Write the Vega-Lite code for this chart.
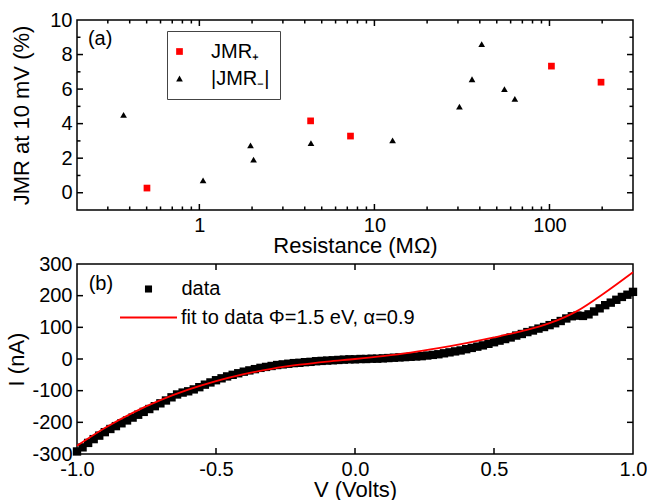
{
  "$schema": "https://vega.github.io/schema/vega-lite/v6.json",
  "background": "white",
  "padding": {"left": 5, "top": 9, "right": 10, "bottom": 0},
  "bounds": "flush",
  "spacing": 54,
  "resolve": {"scale": {"color": "independent", "shape": "independent"}, "legend": {"color": "independent", "shape": "independent"}},
  "config": {
    "font": "Liberation Sans",
    "view": {"stroke": "black", "strokeWidth": 1.5},
    "axis": {
      "domain": false, "grid": false, "ticks": false,
      "labelFont": "Liberation Sans", "labelFontSize": 20, "labelColor": "black",
      "titleFont": "Liberation Sans", "titleFontSize": 22, "titleFontWeight": "normal", "titleColor": "black"
    },
    "legend": {"labelFont": "Liberation Sans", "labelFontSize": 20, "labelColor": "black", "labelLimit": 400}
  },
  "datasets": {
    "jmr": [
      {"R": 0.502, "JMR": 0.27, "series": "JMR₊"},
      {"R": 4.32, "JMR": 4.16, "series": "JMR₊"},
      {"R": 7.3, "JMR": 3.28, "series": "JMR₊"},
      {"R": 102.6, "JMR": 7.33, "series": "JMR₊"},
      {"R": 197, "JMR": 6.4, "series": "JMR₊"},
      {"R": 0.369, "JMR": 4.51, "series": "|JMR₋|"},
      {"R": 1.05, "JMR": 0.71, "series": "|JMR₋|"},
      {"R": 1.96, "JMR": 2.74, "series": "|JMR₋|"},
      {"R": 2.04, "JMR": 1.92, "series": "|JMR₋|"},
      {"R": 4.34, "JMR": 2.87, "series": "|JMR₋|"},
      {"R": 12.7, "JMR": 3.03, "series": "|JMR₋|"},
      {"R": 30.6, "JMR": 4.99, "series": "|JMR₋|"},
      {"R": 36.1, "JMR": 6.57, "series": "|JMR₋|"},
      {"R": 41, "JMR": 8.6, "series": "|JMR₋|"},
      {"R": 55.3, "JMR": 6.0, "series": "|JMR₋|"},
      {"R": 63.4, "JMR": 5.43, "series": "|JMR₋|"}
    ],
    "txMajor": [{"v": 1}, {"v": 10}, {"v": 100}],
    "txMinor": [
      {"v": 0.3}, {"v": 0.4}, {"v": 0.5}, {"v": 0.6}, {"v": 0.7}, {"v": 0.8}, {"v": 0.9},
      {"v": 2}, {"v": 3}, {"v": 4}, {"v": 5}, {"v": 6}, {"v": 7}, {"v": 8}, {"v": 9},
      {"v": 20}, {"v": 30}, {"v": 40}, {"v": 50}, {"v": 60}, {"v": 70}, {"v": 80}, {"v": 90},
      {"v": 200}
    ],
    "tyMajor": [{"v": 0}, {"v": 2}, {"v": 4}, {"v": 6}, {"v": 8}],
    "tyMinor": [{"v": 1}, {"v": 3}, {"v": 5}, {"v": 7}, {"v": 9}],
    "bx": [{"v": -0.5}, {"v": 0}, {"v": 0.5}],
    "by": [{"v": -200}, {"v": -100}, {"v": 0}, {"v": 100}, {"v": 200}],
    "iv": [
      {"V": -1.00, "I": -292}, {"V": -0.98, "I": -279}, {"V": -0.96, "I": -265}, {"V": -0.94, "I": -253},
      {"V": -0.92, "I": -242}, {"V": -0.90, "I": -231}, {"V": -0.88, "I": -221}, {"V": -0.86, "I": -212},
      {"V": -0.84, "I": -203}, {"V": -0.82, "I": -194}, {"V": -0.80, "I": -185}, {"V": -0.78, "I": -176},
      {"V": -0.76, "I": -167}, {"V": -0.74, "I": -158}, {"V": -0.72, "I": -149}, {"V": -0.70, "I": -140},
      {"V": -0.68, "I": -131}, {"V": -0.66, "I": -121}, {"V": -0.64, "I": -112}, {"V": -0.62, "I": -106},
      {"V": -0.60, "I": -102}, {"V": -0.58, "I": -96}, {"V": -0.56, "I": -89}, {"V": -0.54, "I": -81},
      {"V": -0.52, "I": -74}, {"V": -0.50, "I": -67}, {"V": -0.48, "I": -61}, {"V": -0.46, "I": -55},
      {"V": -0.44, "I": -50}, {"V": -0.42, "I": -45}, {"V": -0.40, "I": -40}, {"V": -0.38, "I": -36},
      {"V": -0.36, "I": -32}, {"V": -0.34, "I": -28}, {"V": -0.32, "I": -25}, {"V": -0.30, "I": -22},
      {"V": -0.28, "I": -19}, {"V": -0.26, "I": -17}, {"V": -0.24, "I": -15}, {"V": -0.22, "I": -13},
      {"V": -0.20, "I": -12}, {"V": -0.18, "I": -10}, {"V": -0.16, "I": -9}, {"V": -0.14, "I": -7},
      {"V": -0.12, "I": -6}, {"V": -0.10, "I": -5}, {"V": -0.08, "I": -4}, {"V": -0.06, "I": -3},
      {"V": -0.04, "I": -2}, {"V": -0.02, "I": -1}, {"V": 0.00, "I": -1}, {"V": 0.02, "I": 0},
      {"V": 0.04, "I": 0}, {"V": 0.06, "I": 1}, {"V": 0.08, "I": 1}, {"V": 0.10, "I": 2},
      {"V": 0.12, "I": 3}, {"V": 0.14, "I": 4}, {"V": 0.16, "I": 5}, {"V": 0.18, "I": 6},
      {"V": 0.20, "I": 7}, {"V": 0.22, "I": 8}, {"V": 0.24, "I": 9}, {"V": 0.26, "I": 11},
      {"V": 0.28, "I": 13}, {"V": 0.30, "I": 15}, {"V": 0.32, "I": 18}, {"V": 0.34, "I": 21},
      {"V": 0.36, "I": 24}, {"V": 0.38, "I": 27}, {"V": 0.40, "I": 31}, {"V": 0.42, "I": 35},
      {"V": 0.44, "I": 39}, {"V": 0.46, "I": 43}, {"V": 0.48, "I": 48}, {"V": 0.50, "I": 53},
      {"V": 0.52, "I": 58}, {"V": 0.54, "I": 63}, {"V": 0.56, "I": 68}, {"V": 0.58, "I": 74},
      {"V": 0.60, "I": 79}, {"V": 0.62, "I": 85}, {"V": 0.64, "I": 90}, {"V": 0.66, "I": 96},
      {"V": 0.68, "I": 101}, {"V": 0.70, "I": 107}, {"V": 0.72, "I": 113}, {"V": 0.74, "I": 120},
      {"V": 0.76, "I": 128}, {"V": 0.78, "I": 135}, {"V": 0.80, "I": 137}, {"V": 0.82, "I": 136},
      {"V": 0.84, "I": 141}, {"V": 0.86, "I": 150}, {"V": 0.88, "I": 160}, {"V": 0.90, "I": 170},
      {"V": 0.92, "I": 178}, {"V": 0.94, "I": 187}, {"V": 0.96, "I": 196}, {"V": 0.98, "I": 203},
      {"V": 1.00, "I": 212}
    ],
    "fit": [
      {"V": -1.0, "I": -274}, {"V": -0.9, "I": -218}, {"V": -0.8, "I": -170}, {"V": -0.7, "I": -130},
      {"V": -0.6, "I": -97}, {"V": -0.5, "I": -70}, {"V": -0.4, "I": -48}, {"V": -0.3, "I": -31},
      {"V": -0.2, "I": -18}, {"V": -0.1, "I": -8}, {"V": 0.0, "I": 0}, {"V": 0.1, "I": 9},
      {"V": 0.2, "I": 20}, {"V": 0.3, "I": 34}, {"V": 0.4, "I": 50}, {"V": 0.5, "I": 68},
      {"V": 0.6, "I": 88}, {"V": 0.7, "I": 113}, {"V": 0.8, "I": 152}, {"V": 0.9, "I": 210},
      {"V": 1.0, "I": 274}
    ]
  },
  "vconcat": [
    {
      "width": 556,
      "height": 190,
      "layer": [
        {
          "data": {"name": "jmr"},
          "mark": {"type": "point", "filled": true, "opacity": 1, "size": 45},
          "encoding": {
            "x": {"field": "R", "type": "quantitative", "scale": {"type": "log", "domain": [0.2, 300], "nice": false},
              "axis": {"orient": "bottom", "title": "Resistance (MΩ)", "values": [1, 10, 100], "format": "d", "labelPadding": 5, "titlePadding": 0, "labelFlush": false, "labelOverlap": false}},
            "y": {"field": "JMR", "type": "quantitative", "scale": {"domain": [-1, 10], "nice": false, "zero": false},
              "axis": {"orient": "left", "title": "JMR at 10 mV (%)", "values": [0, 2, 4, 6, 8, 10], "labelPadding": 5, "titlePadding": 16, "labelFlush": false, "labelOverlap": false}},
            "color": {
              "field": "series", "type": "nominal",
              "scale": {"domain": ["JMR₊", "|JMR₋|"], "range": ["#ff0000", "#000000"]},
              "legend": {"title": null, "orient": "none", "legendX": 90, "legendY": 11, "strokeColor": "#444444", "padding": 10.5, "symbolOffset": -8, "labelOffset": 21.5, "rowPadding": 7, "symbolSize": 45}
            },
            "shape": {
              "field": "series", "type": "nominal",
              "scale": {"domain": ["JMR₊", "|JMR₋|"], "range": ["square", "triangle-up"]},
              "legend": {"title": null, "orient": "none", "legendX": 90, "legendY": 11, "strokeColor": "#444444", "padding": 10.5, "symbolOffset": -8, "labelOffset": 21.5, "rowPadding": 7, "symbolSize": 45}
            }
          }
        },
        {
          "data": {"name": "txMajor"},
          "mark": {"type": "tick", "orient": "vertical", "size": 6, "thickness": 1.5, "yOffset": -3, "color": "black", "opacity": 1},
          "encoding": {
            "x": {"field": "v", "type": "quantitative", "scale": {"type": "log", "domain": [0.2, 300], "nice": false},
              "axis": {"orient": "bottom", "title": "Resistance (MΩ)", "values": [1, 10, 100], "format": "d", "labelPadding": 5, "titlePadding": 0, "labelFlush": false, "labelOverlap": false}},
            "y": {"datum": -1, "type": "quantitative", "scale": {"domain": [-1, 10], "nice": false, "zero": false},
              "axis": {"orient": "left", "title": "JMR at 10 mV (%)", "values": [0, 2, 4, 6, 8, 10], "labelPadding": 5, "titlePadding": 16, "labelFlush": false, "labelOverlap": false}}
          }
        },
        {
          "data": {"name": "txMinor"},
          "mark": {"type": "tick", "orient": "vertical", "size": 3.5, "thickness": 1.5, "yOffset": -1.75, "color": "black", "opacity": 1},
          "encoding": {
            "x": {"field": "v", "type": "quantitative", "scale": {"type": "log", "domain": [0.2, 300], "nice": false},
              "axis": {"orient": "bottom", "title": "Resistance (MΩ)", "values": [1, 10, 100], "format": "d", "labelPadding": 5, "titlePadding": 0, "labelFlush": false, "labelOverlap": false}},
            "y": {"datum": -1, "type": "quantitative", "scale": {"domain": [-1, 10], "nice": false, "zero": false},
              "axis": {"orient": "left", "title": "JMR at 10 mV (%)", "values": [0, 2, 4, 6, 8, 10], "labelPadding": 5, "titlePadding": 16, "labelFlush": false, "labelOverlap": false}}
          }
        },
        {
          "data": {"name": "txMajor"},
          "mark": {"type": "tick", "orient": "vertical", "size": 6, "thickness": 1.5, "yOffset": 3, "color": "black", "opacity": 1},
          "encoding": {
            "x": {"field": "v", "type": "quantitative", "scale": {"type": "log", "domain": [0.2, 300], "nice": false},
              "axis": {"orient": "bottom", "title": "Resistance (MΩ)", "values": [1, 10, 100], "format": "d", "labelPadding": 5, "titlePadding": 0, "labelFlush": false, "labelOverlap": false}},
            "y": {"datum": 10, "type": "quantitative", "scale": {"domain": [-1, 10], "nice": false, "zero": false},
              "axis": {"orient": "left", "title": "JMR at 10 mV (%)", "values": [0, 2, 4, 6, 8, 10], "labelPadding": 5, "titlePadding": 16, "labelFlush": false, "labelOverlap": false}}
          }
        },
        {
          "data": {"name": "txMinor"},
          "mark": {"type": "tick", "orient": "vertical", "size": 3.5, "thickness": 1.5, "yOffset": 1.75, "color": "black", "opacity": 1},
          "encoding": {
            "x": {"field": "v", "type": "quantitative", "scale": {"type": "log", "domain": [0.2, 300], "nice": false},
              "axis": {"orient": "bottom", "title": "Resistance (MΩ)", "values": [1, 10, 100], "format": "d", "labelPadding": 5, "titlePadding": 0, "labelFlush": false, "labelOverlap": false}},
            "y": {"datum": 10, "type": "quantitative", "scale": {"domain": [-1, 10], "nice": false, "zero": false},
              "axis": {"orient": "left", "title": "JMR at 10 mV (%)", "values": [0, 2, 4, 6, 8, 10], "labelPadding": 5, "titlePadding": 16, "labelFlush": false, "labelOverlap": false}}
          }
        },
        {
          "data": {"name": "tyMajor"},
          "mark": {"type": "tick", "orient": "horizontal", "size": 6, "thickness": 1.5, "xOffset": 3, "color": "black", "opacity": 1},
          "encoding": {
            "x": {"datum": 0.2, "type": "quantitative", "scale": {"type": "log", "domain": [0.2, 300], "nice": false},
              "axis": {"orient": "bottom", "title": "Resistance (MΩ)", "values": [1, 10, 100], "format": "d", "labelPadding": 5, "titlePadding": 0, "labelFlush": false, "labelOverlap": false}},
            "y": {"field": "v", "type": "quantitative", "scale": {"domain": [-1, 10], "nice": false, "zero": false},
              "axis": {"orient": "left", "title": "JMR at 10 mV (%)", "values": [0, 2, 4, 6, 8, 10], "labelPadding": 5, "titlePadding": 16, "labelFlush": false, "labelOverlap": false}}
          }
        },
        {
          "data": {"name": "tyMinor"},
          "mark": {"type": "tick", "orient": "horizontal", "size": 3.5, "thickness": 1.5, "xOffset": 1.75, "color": "black", "opacity": 1},
          "encoding": {
            "x": {"datum": 0.2, "type": "quantitative", "scale": {"type": "log", "domain": [0.2, 300], "nice": false},
              "axis": {"orient": "bottom", "title": "Resistance (MΩ)", "values": [1, 10, 100], "format": "d", "labelPadding": 5, "titlePadding": 0, "labelFlush": false, "labelOverlap": false}},
            "y": {"field": "v", "type": "quantitative", "scale": {"domain": [-1, 10], "nice": false, "zero": false},
              "axis": {"orient": "left", "title": "JMR at 10 mV (%)", "values": [0, 2, 4, 6, 8, 10], "labelPadding": 5, "titlePadding": 16, "labelFlush": false, "labelOverlap": false}}
          }
        },
        {
          "data": {"name": "tyMajor"},
          "mark": {"type": "tick", "orient": "horizontal", "size": 6, "thickness": 1.5, "xOffset": -3, "color": "black", "opacity": 1},
          "encoding": {
            "x": {"datum": 300, "type": "quantitative", "scale": {"type": "log", "domain": [0.2, 300], "nice": false},
              "axis": {"orient": "bottom", "title": "Resistance (MΩ)", "values": [1, 10, 100], "format": "d", "labelPadding": 5, "titlePadding": 0, "labelFlush": false, "labelOverlap": false}},
            "y": {"field": "v", "type": "quantitative", "scale": {"domain": [-1, 10], "nice": false, "zero": false},
              "axis": {"orient": "left", "title": "JMR at 10 mV (%)", "values": [0, 2, 4, 6, 8, 10], "labelPadding": 5, "titlePadding": 16, "labelFlush": false, "labelOverlap": false}}
          }
        },
        {
          "data": {"name": "tyMinor"},
          "mark": {"type": "tick", "orient": "horizontal", "size": 3.5, "thickness": 1.5, "xOffset": -1.75, "color": "black", "opacity": 1},
          "encoding": {
            "x": {"datum": 300, "type": "quantitative", "scale": {"type": "log", "domain": [0.2, 300], "nice": false},
              "axis": {"orient": "bottom", "title": "Resistance (MΩ)", "values": [1, 10, 100], "format": "d", "labelPadding": 5, "titlePadding": 0, "labelFlush": false, "labelOverlap": false}},
            "y": {"field": "v", "type": "quantitative", "scale": {"domain": [-1, 10], "nice": false, "zero": false},
              "axis": {"orient": "left", "title": "JMR at 10 mV (%)", "values": [0, 2, 4, 6, 8, 10], "labelPadding": 5, "titlePadding": 16, "labelFlush": false, "labelOverlap": false}}
          }
        },
        {
          "data": {"values": [{"R": 0.231, "JMR": 8.9, "label": "(a)"}]},
          "mark": {"type": "text", "align": "left", "baseline": "middle", "fontSize": 20, "color": "black"},
          "encoding": {
            "x": {"field": "R", "type": "quantitative", "scale": {"type": "log", "domain": [0.2, 300], "nice": false},
              "axis": {"orient": "bottom", "title": "Resistance (MΩ)", "values": [1, 10, 100], "format": "d", "labelPadding": 5, "titlePadding": 0, "labelFlush": false, "labelOverlap": false}},
            "y": {"field": "JMR", "type": "quantitative", "scale": {"domain": [-1, 10], "nice": false, "zero": false},
              "axis": {"orient": "left", "title": "JMR at 10 mV (%)", "values": [0, 2, 4, 6, 8, 10], "labelPadding": 5, "titlePadding": 16, "labelFlush": false, "labelOverlap": false}},
            "text": {"field": "label"}
          }
        }
      ]
    },
    {
      "width": 556,
      "height": 190,
      "layer": [
        {
          "data": {"name": "iv"},
          "mark": {"type": "point", "filled": true, "opacity": 1, "size": 70, "color": "black"},
          "encoding": {
            "x": {"field": "V", "type": "quantitative", "scale": {"domain": [-1, 1], "nice": false, "zero": false},
              "axis": {"orient": "bottom", "title": "V (Volts)", "values": [-1, -0.5, 0, 0.5, 1], "labelExpr": "replace(format(datum.value, '.1f'), '−', '-')", "labelPadding": 5, "titlePadding": 0, "labelFlush": false, "labelOverlap": false}},
            "y": {"field": "I", "type": "quantitative", "scale": {"domain": [-300, 300], "nice": false, "zero": false},
              "axis": {"orient": "left", "title": "I (nA)", "values": [-300, -200, -100, 0, 100, 200, 300], "labelExpr": "replace(format(datum.value, 'd'), '−', '-')", "labelPadding": 5, "titlePadding": 3, "labelFlush": false, "labelOverlap": false}},
            "shape": {
              "datum": "data",
              "scale": {"range": ["square"]},
              "legend": {"title": null, "orient": "none", "legendX": 61.5, "legendY": 15, "padding": 0, "labelOffset": 23, "symbolSize": 50, "symbolFillColor": "black", "symbolStrokeWidth": 0}
            }
          }
        },
        {
          "data": {"name": "fit"},
          "mark": {"type": "line", "interpolate": "monotone", "strokeWidth": 1.8},
          "encoding": {
            "x": {"field": "V", "type": "quantitative", "scale": {"domain": [-1, 1], "nice": false, "zero": false},
              "axis": {"orient": "bottom", "title": "V (Volts)", "values": [-1, -0.5, 0, 0.5, 1], "labelExpr": "replace(format(datum.value, '.1f'), '−', '-')", "labelPadding": 5, "titlePadding": 0, "labelFlush": false, "labelOverlap": false}},
            "y": {"field": "I", "type": "quantitative", "scale": {"domain": [-300, 300], "nice": false, "zero": false},
              "axis": {"orient": "left", "title": "I (nA)", "values": [-300, -200, -100, 0, 100, 200, 300], "labelExpr": "replace(format(datum.value, 'd'), '−', '-')", "labelPadding": 5, "titlePadding": 3, "labelFlush": false, "labelOverlap": false}},
            "color": {
              "datum": "fit to data Φ=1.5 eV, α=0.9",
              "scale": {"range": ["#ff0000"]},
              "legend": {"title": null, "orient": "none", "legendX": 42, "legendY": 24, "padding": 0, "labelOffset": 3, "symbolType": "stroke", "symbolSize": 3249, "symbolStrokeWidth": 1.8}
            }
          }
        },
        {
          "data": {"name": "bx"},
          "mark": {"type": "tick", "orient": "vertical", "size": 6, "thickness": 1.5, "yOffset": -3, "color": "black", "opacity": 1},
          "encoding": {
            "x": {"field": "v", "type": "quantitative", "scale": {"domain": [-1, 1], "nice": false, "zero": false},
              "axis": {"orient": "bottom", "title": "V (Volts)", "values": [-1, -0.5, 0, 0.5, 1], "labelExpr": "replace(format(datum.value, '.1f'), '−', '-')", "labelPadding": 5, "titlePadding": 0, "labelFlush": false, "labelOverlap": false}},
            "y": {"datum": -300, "type": "quantitative", "scale": {"domain": [-300, 300], "nice": false, "zero": false},
              "axis": {"orient": "left", "title": "I (nA)", "values": [-300, -200, -100, 0, 100, 200, 300], "labelExpr": "replace(format(datum.value, 'd'), '−', '-')", "labelPadding": 5, "titlePadding": 3, "labelFlush": false, "labelOverlap": false}}
          }
        },
        {
          "data": {"name": "bx"},
          "mark": {"type": "tick", "orient": "vertical", "size": 6, "thickness": 1.5, "yOffset": 3, "color": "black", "opacity": 1},
          "encoding": {
            "x": {"field": "v", "type": "quantitative", "scale": {"domain": [-1, 1], "nice": false, "zero": false},
              "axis": {"orient": "bottom", "title": "V (Volts)", "values": [-1, -0.5, 0, 0.5, 1], "labelExpr": "replace(format(datum.value, '.1f'), '−', '-')", "labelPadding": 5, "titlePadding": 0, "labelFlush": false, "labelOverlap": false}},
            "y": {"datum": 300, "type": "quantitative", "scale": {"domain": [-300, 300], "nice": false, "zero": false},
              "axis": {"orient": "left", "title": "I (nA)", "values": [-300, -200, -100, 0, 100, 200, 300], "labelExpr": "replace(format(datum.value, 'd'), '−', '-')", "labelPadding": 5, "titlePadding": 3, "labelFlush": false, "labelOverlap": false}}
          }
        },
        {
          "data": {"name": "by"},
          "mark": {"type": "tick", "orient": "horizontal", "size": 6, "thickness": 1.5, "xOffset": 3, "color": "black", "opacity": 1},
          "encoding": {
            "x": {"datum": -1, "type": "quantitative", "scale": {"domain": [-1, 1], "nice": false, "zero": false},
              "axis": {"orient": "bottom", "title": "V (Volts)", "values": [-1, -0.5, 0, 0.5, 1], "labelExpr": "replace(format(datum.value, '.1f'), '−', '-')", "labelPadding": 5, "titlePadding": 0, "labelFlush": false, "labelOverlap": false}},
            "y": {"field": "v", "type": "quantitative", "scale": {"domain": [-300, 300], "nice": false, "zero": false},
              "axis": {"orient": "left", "title": "I (nA)", "values": [-300, -200, -100, 0, 100, 200, 300], "labelExpr": "replace(format(datum.value, 'd'), '−', '-')", "labelPadding": 5, "titlePadding": 3, "labelFlush": false, "labelOverlap": false}}
          }
        },
        {
          "data": {"name": "by"},
          "mark": {"type": "tick", "orient": "horizontal", "size": 6, "thickness": 1.5, "xOffset": -3, "color": "black", "opacity": 1},
          "encoding": {
            "x": {"datum": 1, "type": "quantitative", "scale": {"domain": [-1, 1], "nice": false, "zero": false},
              "axis": {"orient": "bottom", "title": "V (Volts)", "values": [-1, -0.5, 0, 0.5, 1], "labelExpr": "replace(format(datum.value, '.1f'), '−', '-')", "labelPadding": 5, "titlePadding": 0, "labelFlush": false, "labelOverlap": false}},
            "y": {"field": "v", "type": "quantitative", "scale": {"domain": [-300, 300], "nice": false, "zero": false},
              "axis": {"orient": "left", "title": "I (nA)", "values": [-300, -200, -100, 0, 100, 200, 300], "labelExpr": "replace(format(datum.value, 'd'), '−', '-')", "labelPadding": 5, "titlePadding": 3, "labelFlush": false, "labelOverlap": false}}
          }
        },
        {
          "data": {"values": [{"V": -0.958, "I": 238, "label": "(b)"}]},
          "mark": {"type": "text", "align": "left", "baseline": "middle", "fontSize": 20, "color": "black"},
          "encoding": {
            "x": {"field": "V", "type": "quantitative", "scale": {"domain": [-1, 1], "nice": false, "zero": false},
              "axis": {"orient": "bottom", "title": "V (Volts)", "values": [-1, -0.5, 0, 0.5, 1], "labelExpr": "replace(format(datum.value, '.1f'), '−', '-')", "labelPadding": 5, "titlePadding": 0, "labelFlush": false, "labelOverlap": false}},
            "y": {"field": "I", "type": "quantitative", "scale": {"domain": [-300, 300], "nice": false, "zero": false},
              "axis": {"orient": "left", "title": "I (nA)", "values": [-300, -200, -100, 0, 100, 200, 300], "labelExpr": "replace(format(datum.value, 'd'), '−', '-')", "labelPadding": 5, "titlePadding": 3, "labelFlush": false, "labelOverlap": false}},
            "text": {"field": "label"}
          }
        }
      ]
    }
  ]
}
